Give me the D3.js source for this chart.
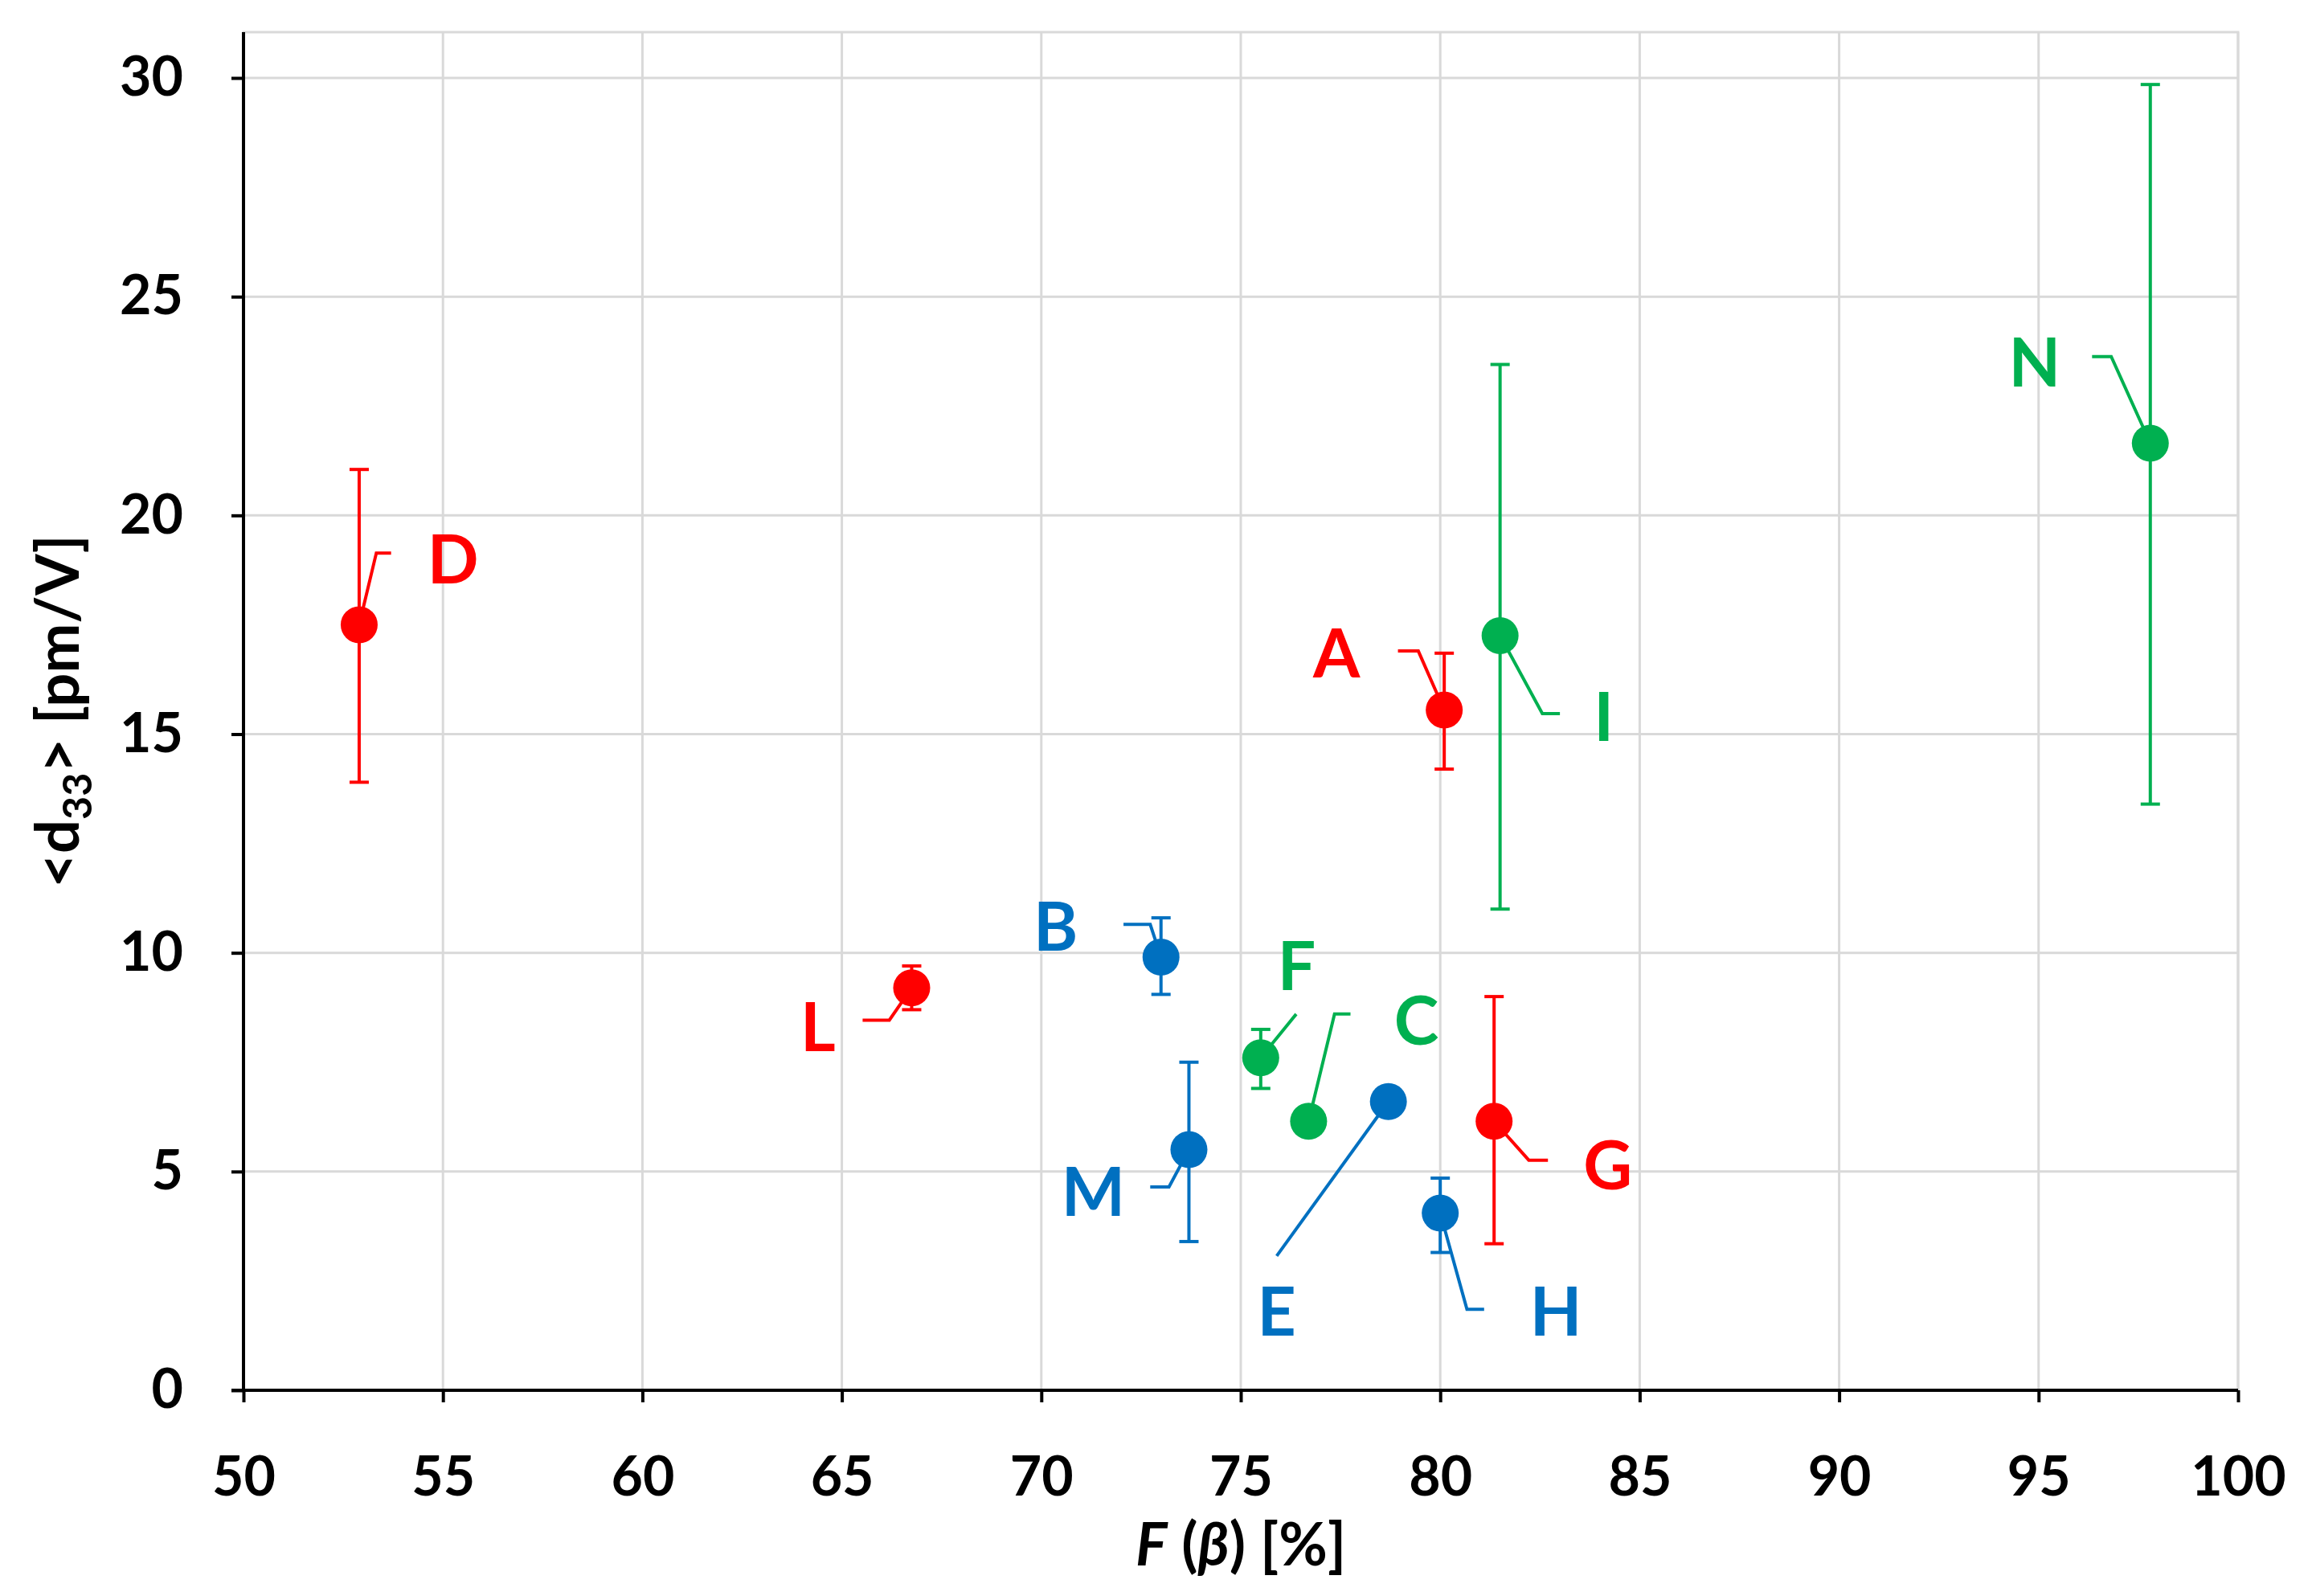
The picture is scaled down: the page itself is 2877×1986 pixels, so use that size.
<!DOCTYPE html>
<html><head><meta charset="utf-8">
<script src="https://cdn.jsdelivr.net/npm/d3@7"></script>
<style>body{margin:0;background:#fff}svg text{font-family:Lato,"Open Sans",sans-serif;font-weight:bold}</style>
</head><body><svg id="c" width="2877" height="1986"></svg>
<script>
const names = ["D","L","B","M","F","C","E","H","A","G","I","N"];
const groups = ["red","red","blue","blue","green","green","blue","blue","red","red","green","green"];
const xVals = [52.9,66.75,73.0,73.7,75.5,76.7,78.7,80.0,80.1,81.35,81.5,97.8];
const yVals = [17.5,9.2,9.9,5.5,7.6,6.15,6.6,4.05,15.55,6.15,17.25,21.65];
const errHi = [21.05,9.7,10.8,7.5,8.25,6.3,null,4.85,16.85,9.0,23.45,29.85];
const errLo = [13.9,8.7,9.05,3.4,6.9,5.95,null,3.15,14.2,3.35,11.0,13.4];
const labelX = [55.25,64.4,70.36,71.3,76.4,79.4,75.9,82.9,77.4,84.2,84.1,94.9];
const labelY = [19.0,8.3,10.6,4.55,9.7,8.46,1.8,1.8,16.85,5.15,15.4,23.5];
const leaderElbow = [[53.33,19.14],[66.19,8.46],[72.73,10.65],[73.2,4.65],[76.39,8.6],[77.35,8.6],[75.9,3.07],[80.67,1.85],[79.45,16.9],[82.22,5.26],[82.56,15.47],[96.82,23.63]];
const leaderEnd = [[53.7,19.14],[65.52,8.46],[72.06,10.65],[72.73,4.65],[76.39,8.6],[77.75,8.6],[75.9,3.07],[81.1,1.85],[78.94,16.9],[82.7,5.26],[83.0,15.47],[96.34,23.63]];
const xTicks = [50,55,60,65,70,75,80,85,90,95,100];
const yTicks = [0,5,10,15,20,25,30];
const colors = {red:"#FF0000",green:"#00B050",blue:"#0070C0"};

const svg = d3.select("#c");
const L=303,R=2785,T=40,B=1730;
const x = d3.scaleLinear().domain([50,100]).range([L,R]);
const y = d3.scaleLinear().domain([0,30]).range([B,97]);
const g = svg.append("g");
g.append("rect").attr("x",L).attr("y",T).attr("width",R-L).attr("height",B-T).attr("fill","none").attr("stroke","#d9d9d9").attr("stroke-width",3);
g.selectAll(".gx").data(xTicks).enter().append("line").attr("x1",d=>x(d)).attr("x2",d=>x(d)).attr("y1",T).attr("y2",B).attr("stroke","#d9d9d9").attr("stroke-width",3);
g.selectAll(".gy").data(yTicks).enter().append("line").attr("x1",L).attr("x2",R).attr("y1",d=>y(d)).attr("y2",d=>y(d)).attr("stroke","#d9d9d9").attr("stroke-width",3);
const xa = svg.append("g").attr("transform",`translate(0,${B})`).call(d3.axisBottom(x).tickValues(xTicks).tickSize(15).tickPadding(68));
const ya = svg.append("g").attr("transform",`translate(${L},0)`).call(d3.axisLeft(y).tickValues(yTicks).tickSize(15).tickPadding(60));
[xa,ya].forEach(a=>{a.selectAll("path,line").attr("stroke","#000").attr("stroke-width",4);a.selectAll("text").attr("font-size",68).attr("font-weight",900).attr("fill","#000");});
ya.select("path").attr("d",`M0,${B}V${T}`);
xa.select("path").attr("d",`M${L-15},0H${R}`);
const xt = svg.append("text").attr("x",(L+R)/2).attr("y",1948).attr("text-anchor","middle").attr("font-size",74).attr("font-weight",900);
xt.append("tspan").attr("font-style","italic").text("F");
xt.append("tspan").text(" (");
xt.append("tspan").attr("font-style","italic").text("β");
xt.append("tspan").text(") [%]");
const yt = svg.append("text").attr("transform",`translate(98,${(T+B)/2}) rotate(-90)`).attr("text-anchor","middle").attr("font-size",74).attr("font-weight",900);
yt.append("tspan").text("<d");
yt.append("tspan").attr("font-size",50).attr("dy",16).text("33");
yt.append("tspan").attr("dy",-16).text("> [pm/V]");

const idx = d3.range(names.length);
svg.selectAll(".lead").data(idx).enter().append("path")
 .attr("d",i=>d3.line()([[x(xVals[i]),y(yVals[i])],[x(leaderElbow[i][0]),y(leaderElbow[i][1])],[x(leaderEnd[i][0]),y(leaderEnd[i][1])]]))
 .attr("fill","none").attr("stroke",i=>colors[groups[i]]).attr("stroke-width",4);
const eb = svg.selectAll(".eb").data(idx.filter(i=>errHi[i]!=null)).enter().append("g").attr("stroke",i=>colors[groups[i]]).attr("stroke-width",4);
eb.append("line").attr("x1",i=>x(xVals[i])).attr("x2",i=>x(xVals[i])).attr("y1",i=>y(errHi[i])).attr("y2",i=>y(errLo[i]));
eb.append("line").attr("x1",i=>x(xVals[i])-12).attr("x2",i=>x(xVals[i])+12).attr("y1",i=>y(errHi[i])).attr("y2",i=>y(errHi[i]));
eb.append("line").attr("x1",i=>x(xVals[i])-12).attr("x2",i=>x(xVals[i])+12).attr("y1",i=>y(errLo[i])).attr("y2",i=>y(errLo[i]));
svg.selectAll(".pt").data(idx).enter().append("circle").attr("cx",i=>x(xVals[i])).attr("cy",i=>y(yVals[i])).attr("r",23).attr("fill",i=>colors[groups[i]]);
svg.selectAll(".lb").data(idx).enter().append("text").attr("x",i=>x(labelX[i])).attr("y",i=>y(labelY[i])).attr("dy","0.36em")
 .attr("text-anchor","middle").attr("font-size",84).attr("font-weight",900).attr("fill",i=>colors[groups[i]]).text(i=>names[i]);
</script></body></html>
